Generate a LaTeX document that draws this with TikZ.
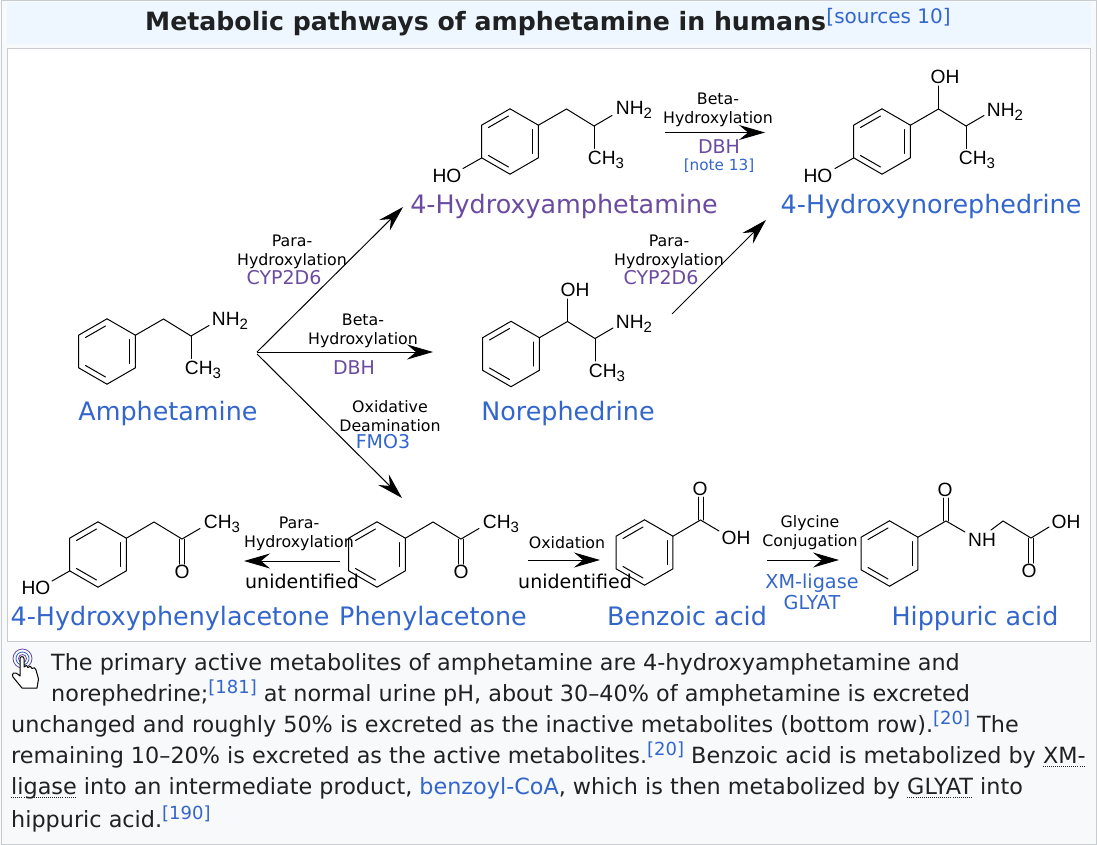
\documentclass[tikz,border=0pt]{standalone}
\usepackage{fontspec}
\setmainfont{DejaVu Sans}
\newfontfamily\atomfont{Liberation Sans}
\usepackage{tikz}
\usetikzlibrary{arrows.meta,positioning}
\definecolor{linkblue}{HTML}{3366CC}
\definecolor{enzpurple}{HTML}{6B4BA1}
\definecolor{bodyink}{HTML}{202122}
\definecolor{frameline}{HTML}{C8CCD1}
\definecolor{panelbg}{HTML}{F8F9FA}
\definecolor{titlebg}{HTML}{EEF6FF}
\tikzset{
  bond/.style={draw,line width=1pt,line cap=round},
  rxn/.style={draw,line width=1pt,-{Stealth[length=26pt,width=15pt,inset=9pt]}},
  atomlbl/.style={inner sep=0pt,font=\atomfont\fontsize{19.2}{20}\selectfont},
  cpdname/.style={inner sep=0pt,anchor=base,text=linkblue,font=\fontsize{25.4}{27}\selectfont},
  steplbl/.style={inner sep=0pt,align=center,font=\fontsize{15.8}{19}\selectfont},
  enzlbl/.style={inner sep=0pt,align=center,font=\fontsize{19}{21}\selectfont},
  txtline/.style={inner sep=0pt,anchor=base west,text=bodyink,font=\fontsize{22.32}{24}\selectfont},
  pics/ring/.style={code={
    \draw[bond] (0,-32.7) -- (28.4,-16.3) -- (28.4,16.3) -- (0,32.7) -- (-28.4,16.3) -- (-28.4,-16.3) -- cycle;
    \draw[bond] (-21.5,-14) -- (-1.5,-25.5);
    \draw[bond] (22.5,-12) -- (22.5,12);
    \draw[bond] (-21.5,14) -- (-1.5,25.5);
  }},
  pics/propchain/.style={code={
    \draw[bond] (28.4,-16.3) -- (56.5,-32.5) -- (84,-15.5) -- (102,-26);
    \draw[bond] (84,-15.5) -- (84,7);
  }},
  pics/ketone/.style={code={
    \draw[bond] (28.4,-16.3) -- (56,-32.5) -- (84,-15.5) -- (102,-26);
    \draw[bond] (81.5,-15.5) -- (81.5,9.5);
    \draw[bond] (86.5,-15.5) -- (86.5,9.5);
  }},
}
\newcommand{\subn}[1]{\raisebox{-4pt}{\fontsize{15}{16}\selectfont #1}}
\newcommand{\refsup}[1]{\raisebox{8pt}{\textcolor{linkblue}{\fontsize{18}{20}\selectfont[#1]}}}
\newsavebox{\abbrbox}
\newcommand{\abbr}[1]{\sbox{\abbrbox}{#1}\leavevmode\rlap{\raisebox{-3.5pt}{\hbox to \wd\abbrbox{\xleaders\hbox to 2pt{\rule{1pt}{1pt}\hfil}\hfill}}}#1}
\begin{document}
\begin{tikzpicture}[x=1pt,y=-1pt]
 \useasboundingbox (0,0) rectangle (1097,845);
 % panels
 \fill[panelbg] (0,0) rectangle (1097,845);
 \draw[frameline,line width=1pt] (1,0.5) rectangle (1096.5,844.5);
 \fill[titlebg] (7,2) rectangle (1091,44);
 \draw[frameline,fill=white,line width=1pt] (7.5,48.5) rectangle (1090.5,641);
 \node[inner sep=0pt,anchor=base west,text=bodyink,font=\bfseries\fontsize{25.2}{27}\selectfont] (TTL) at (145,31)
  {Metabolic pathways of amphetamine in humans};
 \node[inner sep=0pt,anchor=base west,text=linkblue,font=\fontsize{20}{22}\selectfont,yshift=7pt] (SRC) at (TTL.base east)
  {[sources 10]};

 % amphetamine
 \pic at (107,351.5) {ring};
 \pic at (107,351.5) {propchain};
 \node[atomlbl] (AN) at (230,321) {NH\subn{2}};
 \node[atomlbl] (AC) at (203,370) {CH\subn{3}};
 \node[cpdname] (AMP) at (168,420) {Amphetamine};

 % 4-hydroxyamphetamine
 \pic at (510,141.5) {ring};
 \pic at (510,141.5) {propchain};
 \draw[bond] (481.6,158) -- (463,168.5);
 \node[atomlbl] (HAO) at (447,176) {HO};
 \node[atomlbl] (HAN) at (634,110) {NH\subn{2}};
 \node[atomlbl] (HAC) at (606,160) {CH\subn{3}};
 \node[cpdname,text=enzpurple] (HAMP) at (564,214) {4-Hydroxyamphetamine};

 % norephedrine
 \pic at (511,354) {ring};
 \pic at (511,354) {propchain};
 \draw[bond] (567.5,321.5) -- (567.5,299);
 \node[atomlbl] (NO) at (575,290) {OH};
 \node[atomlbl] (NN) at (634,324) {NH\subn{2}};
 \node[atomlbl] (NC) at (607,372.5) {CH\subn{3}};
 \node[cpdname] (NOR) at (568,420) {Norephedrine};

 % 4-hydroxynorephedrine
 \pic at (882,141.5) {ring};
 \pic at (882,141.5) {propchain};
 \draw[bond] (853.6,158) -- (835,168.5);
 \draw[bond] (938.5,109) -- (938.5,86);
 \node[atomlbl] (HNH) at (818,176) {HO};
 \node[atomlbl] (HNO) at (945,77) {OH};
 \node[atomlbl] (HNN) at (1005,112) {NH\subn{2}};
 \node[atomlbl] (HNC) at (977,160) {CH\subn{3}};
 \node[cpdname] (HNOR) at (931,214) {4-Hydroxynorephedrine};

 % 4-hydroxyphenylacetone
 \pic at (98,554.5) {ring};
 \pic at (98,554.5) {ketone};
 \draw[bond] (69.6,571) -- (52,581);
 \node[atomlbl] (HPH) at (36,588) {HO};
 \node[atomlbl] (HPC) at (222,524) {CH\subn{3}};
 \node[atomlbl] (HPO) at (182,572) {O};
 \node[cpdname] (HPA) at (170,625) {4-Hydroxyphenylacetone};

 % phenylacetone
 \pic at (377,554.5) {ring};
 \pic at (377,554.5) {ketone};
 \node[atomlbl] (PC) at (501,524) {CH\subn{3}};
 \node[atomlbl] (PO) at (461,572) {O};
 \node[cpdname] (PA) at (433,625) {Phenylacetone};

 % benzoic acid
 \pic at (644.5,552.5) {ring};
 \draw[bond] (672.9,536.2) -- (700.5,520) -- (719,531);
 \draw[bond] (698,520) -- (698,497);
 \draw[bond] (703,520) -- (703,497);
 \node[atomlbl] (BO) at (700,489) {O};
 \node[atomlbl] (BH) at (736,538) {OH};
 \node[cpdname] (BA) at (687,625) {Benzoic acid};

 % hippuric acid
 \pic at (889.5,553.5) {ring};
 \draw[bond] (917.9,537.2) -- (946,521) -- (965,532);
 \draw[bond] (943.5,521) -- (943.5,498);
 \draw[bond] (948.5,521) -- (948.5,498);
 \draw[bond] (991,530) -- (1003,521) -- (1031,538) -- (1049,527);
 \draw[bond] (1028.5,538) -- (1028.5,563);
 \draw[bond] (1033.5,538) -- (1033.5,563);
 \node[atomlbl] (HO1) at (945,490) {O};
 \node[atomlbl] (HNK) at (982,540) {NH};
 \node[atomlbl] (HO2) at (1029,571) {O};
 \node[atomlbl] (HOH) at (1066,522) {OH};
 \node[cpdname] (HIP) at (975,625) {Hippuric acid};

 % arrow ends
 \coordinate (fork) at (257,352);
 \coordinate (forkb) at (257,354);
 \coordinate (toHAMP) at (403,207);
 \coordinate (toNOR) at (433,352);
 \coordinate (toPA) at (402,498);
 \coordinate (fromNOR) at (672,314);
 \coordinate (toHNOR) at (766,220);
 \coordinate (fromHAMP) at (665,132.5);
 \coordinate (toHNORb) at (765,132.5);
 \coordinate (fromPA) at (340,561);
 \coordinate (toHPA) at (244,561);
 \coordinate (fromPAb) at (528,560);
 \coordinate (toBA) at (600,560);
 \coordinate (fromBA) at (767,560);
 \coordinate (toHIP) at (839,560);
 \draw[rxn] (fork) -- (toHAMP);
 \draw[rxn] (fork) -- (toNOR);
 \draw[rxn] (forkb) -- (toPA);
 \draw[rxn] (fromNOR) -- (toHNOR);
 \draw[rxn] (fromHAMP) -- (toHNORb);
 \draw[rxn] (fromPA) -- (toHPA);
 \draw[rxn] (fromPAb) -- (toBA);
 \draw[rxn] (fromBA) -- (toHIP);

 % arrow labels
 \node[steplbl] (S1) at (292,251.5) {Para-\\Hydroxylation};
 \node[enzlbl,text=enzpurple] (E1) at (284,278) {CYP2D6};
 \node[steplbl] (S2) at (363,330.5) {Beta-\\Hydroxylation};
 \node[enzlbl,text=enzpurple] (E2) at (354,368) {DBH};
 \node[steplbl] (S3) at (390,416) {Oxidative\\Deamination};
 \node[enzlbl,text=linkblue] (E3) at (383,442) {FMO3};
 \node[steplbl] (S4) at (718,109.5) {Beta-\\Hydroxylation};
 \node[enzlbl,text=enzpurple] (E4) at (719,147) {DBH};
 \node[inner sep=0pt,text=linkblue,font=\fontsize{15.25}{17}\selectfont] (E4n) at (719,166) {[note 13]};
 \node[steplbl] (S5) at (669,251.5) {Para-\\Hydroxylation};
 \node[enzlbl,text=enzpurple] (E5) at (661,278) {CYP2D6};
 \node[steplbl] (S6) at (299,533.5) {Para-\\Hydroxylation};
 \node[enzlbl] (E6) at (302,581) {unidentified};
 \node[steplbl] (S7) at (567,543) {Oxidation};
 \node[enzlbl] (E7) at (575,581) {unidentified};
 \node[steplbl] (S8) at (810,532.5) {Glycine\\Conjugation};
 \node[enzlbl,text=linkblue,font=\fontsize{19.2}{21}\selectfont] (E8) at (812,592) {XM-ligase\\GLYAT};

 % hand icon
 \draw[enzpurple,line width=0.8pt] (22.5,658.5) circle (9.5);
 \draw[linkblue,line width=0.8pt] (22.5,658.5) circle (6.5);
 \draw[enzpurple,line width=0.8pt] (22.5,658.5) circle (4);
 \draw[fill=white,line width=1pt,line join=round] (20,673) -- (20,658.5) .. controls (20,656) and (24,656) .. (24,658.5)
  -- (24,667) .. controls (25,664.5) and (28,665) .. (28,667.5) .. controls (29,665.5) and (32,666) .. (32,668.5)
  .. controls (33,667) and (36,667.5) .. (36,670) -- (38.5,679) -- (37,688) -- (22,688) -- (13,677)
  .. controls (11,674) and (14,670) .. (20,676) -- cycle;

 % caption
 \node[txtline] (L1) at (51,670) {The primary active metabolites of amphetamine are 4-hydroxyamphetamine and};
 \node[txtline] (L2) at (51,701) {norephedrine;\refsup{181} at normal urine pH, about 30–40\% of amphetamine is excreted};
 \node[txtline] (L3) at (11,732) {unchanged and roughly 50\% is excreted as the inactive metabolites (bottom row).\refsup{20} The};
 \node[txtline] (L4) at (11,763) {remaining 10–20\% is excreted as the active metabolites.\refsup{20} Benzoic acid is metabolized by \abbr{XM-}};
 \node[txtline] (L5) at (11,794) {\abbr{ligase} into an intermediate product, \textcolor{linkblue}{benzoyl-CoA}, which is then metabolized by \abbr{GLYAT} into};
 \node[txtline] (L6) at (11,827) {hippuric acid.\refsup{190}};
\end{tikzpicture}
\end{document}
